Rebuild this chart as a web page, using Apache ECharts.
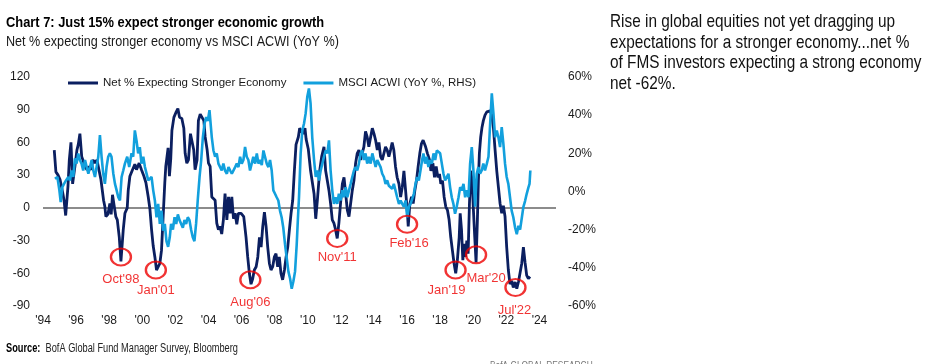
<!DOCTYPE html>
<html>
<head>
<meta charset="utf-8">
<script src="https://cdn.jsdelivr.net/npm/echarts@6/dist/echarts.min.js"></script>
<style>
html,body{margin:0;padding:0;background:#fff;}
#chart{width:937px;height:364px;}
</style>
</head>
<body>
<div id="chart"></div>
<script>
// ---- Data ----
const netYears = [1994.68,1994.78,1994.91,1995.03,1995.19,1995.27,1995.37,1995.51,1995.59,1995.69,1995.79,1995.93,1996.05,1996.13,1996.23,1996.34,1996.41,1996.53,1996.66,1996.78,1996.90,1997.02,1997.14,1997.26,1997.38,1997.50,1997.66,1997.74,1997.80,1997.92,1998.04,1998.12,1998.20,1998.30,1998.40,1998.49,1998.61,1998.71,1998.85,1998.95,1999.09,1999.15,1999.25,1999.41,1999.55,1999.65,1999.81,1999.95,2000.10,2000.22,2000.36,2000.46,2000.56,2000.66,2000.76,2000.86,2000.96,2001.06,2001.16,2001.26,2001.36,2001.42,2001.56,2001.64,2001.72,2001.79,2001.91,2002.05,2002.15,2002.25,2002.39,2002.51,2002.59,2002.69,2002.79,2002.91,2002.99,2003.11,2003.19,2003.31,2003.39,2003.50,2003.60,2003.72,2003.80,2003.92,2004.00,2004.10,2004.20,2004.30,2004.40,2004.50,2004.60,2004.70,2004.80,2004.90,2005.00,2005.11,2005.21,2005.31,2005.41,2005.51,2005.61,2005.71,2005.81,2005.97,2006.13,2006.27,2006.37,2006.47,2006.57,2006.67,2006.77,2006.88,2006.98,2007.08,2007.18,2007.28,2007.38,2007.48,2007.58,2007.68,2007.78,2007.88,2007.98,2008.08,2008.18,2008.28,2008.38,2008.48,2008.59,2008.69,2008.79,2008.89,2008.99,2009.09,2009.19,2009.29,2009.43,2009.51,2009.63,2009.71,2009.83,2009.90,2010.03,2010.17,2010.38,2010.48,2010.58,2010.72,2010.84,2010.98,2011.08,2011.18,2011.28,2011.38,2011.48,2011.58,2011.68,2011.78,2011.88,2011.98,2012.09,2012.19,2012.29,2012.39,2012.49,2012.59,2012.69,2012.79,2012.89,2012.99,2013.09,2013.19,2013.29,2013.39,2013.49,2013.59,2013.69,2013.80,2013.90,2014.00,2014.10,2014.20,2014.30,2014.40,2014.50,2014.60,2014.70,2014.80,2014.90,2015.00,2015.10,2015.20,2015.30,2015.40,2015.51,2015.61,2015.71,2015.81,2015.91,2016.01,2016.07,2016.17,2016.27,2016.37,2016.47,2016.57,2016.67,2016.77,2016.87,2016.97,2017.12,2017.23,2017.36,2017.44,2017.56,2017.66,2017.76,2017.86,2017.96,2018.04,2018.14,2018.24,2018.34,2018.44,2018.54,2018.64,2018.74,2018.84,2018.94,2019.04,2019.15,2019.21,2019.29,2019.37,2019.45,2019.53,2019.61,2019.69,2019.77,2019.85,2019.93,2020.01,2020.09,2020.17,2020.25,2020.31,2020.37,2020.45,2020.53,2020.61,2020.71,2020.82,2020.92,2021.02,2021.12,2021.22,2021.32,2021.42,2021.52,2021.62,2021.72,2021.82,2021.92,2022.02,2022.12,2022.22,2022.32,2022.42,2022.53,2022.63,2022.73,2022.83,2022.93,2023.03,2023.13,2023.23,2023.33,2023.43];
const netValues = [53,33,30,26,14,7,-7,20,44,60,22,38,53,58,68,47,44,38,35,38,35,44,41,44,35,26,7,1,-8,-6,4,-6,12,2,-8,-11,-27,-49,-20,-5,0,16,29,35,40,35,41,35,29,23,10,-1,-20,-35,-45,-57,-58,-51,-39,-8,23,38,55,29,45,71,83,88,91,83,82,73,50,41,44,68,67,53,35,44,80,86,86,80,65,53,41,38,10,10,7,-14,-20,-17,-24,-11,13,-11,10,-5,10,-10,-5,-15,-5,-5,-8,-27,-45,-60,-70,-65,-57,-54,-45,-27,-36,-17,-4,-17,-36,-51,-57,-54,-45,-42,-54,-45,-60,-66,-57,-45,-36,-20,-5,7,34,58,65,73,74,68,73,63,54,34,13,-10,7,34,47,56,34,25,16,4,-11,-14,-20,-28,-14,4,22,28,13,-2,-8,4,16,25,41,50,53,44,50,56,70,65,56,65,73,68,62,53,60,47,44,50,56,53,47,53,60,53,38,28,22,10,19,34,16,-2,-17,4,10,4,16,25,38,50,59,62,56,50,44,34,41,28,38,28,31,22,25,10,1,-2,-11,-27,-39,-51,-60,-48,-27,-5,-20,-48,-33,-45,-30,-42,4,34,25,-2,-27,-50,-11,25,50,65,74,80,85,88,89,89,85,73,53,34,19,4,-5,2,-8,-36,-57,-70,-67,-73,-68,-74,-68,-67,-51,-36,-50,-62,-65,-63];

const acwiYears = [1994.72,1994.87,1994.99,1995.07,1995.17,1995.27,1995.39,1995.53,1995.63,1995.73,1995.83,1995.93,1996.03,1996.13,1996.23,1996.33,1996.43,1996.54,1996.64,1996.74,1996.84,1996.94,1997.04,1997.14,1997.24,1997.34,1997.44,1997.54,1997.64,1997.74,1997.84,1997.94,1998.04,1998.14,1998.25,1998.35,1998.45,1998.55,1998.65,1998.75,1998.85,1998.95,1999.09,1999.21,1999.35,1999.45,1999.55,1999.65,1999.75,1999.85,1999.95,2000.06,2000.16,2000.26,2000.36,2000.46,2000.56,2000.66,2000.76,2000.86,2000.96,2001.06,2001.16,2001.26,2001.36,2001.46,2001.56,2001.66,2001.74,2001.85,2001.95,2002.05,2002.15,2002.25,2002.35,2002.45,2002.55,2002.65,2002.75,2002.85,2002.95,2003.05,2003.15,2003.25,2003.35,2003.46,2003.56,2003.66,2003.76,2003.86,2003.96,2004.06,2004.12,2004.20,2004.30,2004.40,2004.50,2004.60,2004.70,2004.80,2004.90,2005.00,2005.11,2005.21,2005.31,2005.41,2005.51,2005.61,2005.71,2005.81,2005.91,2006.01,2006.11,2006.21,2006.31,2006.41,2006.51,2006.61,2006.71,2006.82,2006.92,2007.02,2007.12,2007.22,2007.32,2007.42,2007.52,2007.62,2007.72,2007.82,2007.92,2008.02,2008.12,2008.22,2008.32,2008.42,2008.52,2008.63,2008.73,2008.83,2008.93,2009.03,2009.13,2009.23,2009.33,2009.40,2009.47,2009.57,2009.67,2009.77,2009.87,2009.97,2010.07,2010.17,2010.27,2010.38,2010.48,2010.58,2010.68,2010.78,2010.88,2010.98,2011.08,2011.18,2011.28,2011.38,2011.48,2011.58,2011.68,2011.78,2011.88,2011.98,2012.09,2012.19,2012.29,2012.39,2012.49,2012.59,2012.69,2012.79,2012.89,2012.99,2013.09,2013.19,2013.29,2013.39,2013.49,2013.59,2013.69,2013.80,2013.90,2014.00,2014.10,2014.20,2014.30,2014.40,2014.50,2014.60,2014.70,2014.80,2014.90,2015.00,2015.10,2015.20,2015.30,2015.40,2015.51,2015.61,2015.71,2015.81,2015.91,2016.01,2016.11,2016.21,2016.31,2016.41,2016.51,2016.61,2016.71,2016.81,2016.91,2016.99,2017.09,2017.19,2017.29,2017.39,2017.50,2017.60,2017.70,2017.80,2017.90,2018.00,2018.10,2018.20,2018.30,2018.40,2018.50,2018.60,2018.70,2018.80,2018.90,2019.00,2019.11,2019.21,2019.31,2019.41,2019.51,2019.61,2019.71,2019.81,2019.91,2020.01,2020.11,2020.21,2020.31,2020.41,2020.51,2020.61,2020.71,2020.82,2020.92,2021.02,2021.12,2021.22,2021.32,2021.42,2021.52,2021.62,2021.72,2021.82,2021.92,2022.02,2022.12,2022.22,2022.32,2022.42,2022.53,2022.63,2022.73,2022.83,2022.93,2023.03,2023.13,2023.23,2023.33,2023.40,2023.45];
const acwiValues = [6.7,7.6,0.6,-5.6,2.3,4,5.8,7.6,5.8,11,7.6,17.3,14.6,19.9,16.5,14.6,11,16.5,12.8,9.3,12.8,16.5,11,7.6,12.8,18.2,29.6,18.2,9.3,4,12.8,18.2,20,18.2,9.3,4,0.6,-3,-4.7,7.6,11,14.6,18.2,12.8,20,18.2,32,26.8,20,23.3,14.6,18.2,12.8,12,5.8,5.8,7.6,0.6,-4.7,-13.5,-6.5,-17,-10,-20.5,-17,-26,-29,-24,-17,-20,-13.5,-17,-12,-15,-14,-19,-15,-17,-13.5,-15,-20,-24,-26,-17,-4.7,7.6,16.5,28.4,35.5,39,37,42.6,41.7,28.4,21.5,18.2,20,14.6,13.8,11,14.6,11,9.3,12.8,11,9.3,9.3,12.8,14.6,12.8,18.2,14.6,16.5,23.3,18.2,16.5,11,14.6,18.2,14.6,20,14.6,16.5,13.8,21.5,22.4,14.6,12.8,16.5,11,0.6,-1.2,-3,-4.7,-10,-13.5,-19,-28,-35,-42,-45.6,-51,-47,-42,-28,-15,-3,19.9,32,35.5,40.8,49.6,54,46,28.4,16.5,7.6,11,5.8,11,14.6,18.2,21.5,20,26.8,11,0.6,-6.5,-3,-6.5,-1.2,-4.7,0.6,-3,2.3,-3,0.6,4,7.6,11,12.8,11,14.6,20,21.5,16.5,20,14.6,18.2,14.6,20,16.5,12.8,16.5,14.6,12.8,9.3,7.6,4,5.8,3,4,1.4,4,0.6,-3,-6.5,-4.7,-6.5,-8,-4.7,-13.5,-8,-6.5,-6.5,-1.2,4,7.6,5.8,11,16.5,19.9,14.6,18.2,12.8,16.5,14.6,20,16.5,21.5,22.4,20,14.6,9.3,5.8,7.6,9.3,2.3,-3,-6.5,-11.7,-8,-3,2.3,0.6,4,-3,0.6,-3,14.6,23.3,11,-8,9.3,12.8,9.3,11,14.6,11,14.6,18.2,35.5,51.4,40.8,28.4,32,28.4,23.3,33.7,25,14.6,7.6,4,-3,-10,-13.5,-19,-22.4,-18,-20,-14,-8,-5,-1.2,2,4,11];

const annLabels = ["Oct'98","Jan'01","Aug'06","Nov'11","Feb'16","Jan'19","Mar'20","Jul'22"];
const annYears  = [1998.71, 2000.82, 2006.53, 2011.78, 2016.0, 2018.93, 2020.17, 2022.55];
const annValues = [-45, -57, -66, -28, -15, -57, -43, -73];

const xTickStart = 1994, xTickEnd = 2025, xTickStep = 2;
const leftTicks = {min: -90, max: 120, step: 30};
const rightTicks = {min: -60, max: 60, step: 20};

// ---- Layout / styles ----
const SANS = "'Liberation Sans',Arial,sans-serif";
const DARK = '#0b1f60';
const LIGHT = '#12a0dd';
const RED = '#ee0000';
const annOffsets = [[0,22],[0,20],[0,23],[0,19],[2,19],[-9,20],[10,24],[-1,23]];

const chart = echarts.init(document.getElementById('chart'), null, {renderer:'canvas'});

const zip = (xs, ys) => xs.map((x, i) => [x, ys[i]]);

// condensed-looking text helper (real text, horizontally scaled)
const ctext = (x, y, text, font, fill, sx, extra) => ({
  type: 'text', x: x, y: y, scaleX: sx, scaleY: 1, silent: true,
  style: Object.assign({text: text, font: font, fill: fill, verticalAlign: 'top', align: 'left'}, extra || {})
});

const option = {
  animation: false,
  backgroundColor: '#fff',
  grid: {left: 43, right: 381, top: 77, bottom: 58, containLabel: false},
  legend: {
    left: 68, top: 77, padding: 0, itemWidth: 30, itemHeight: 3, itemGap: 17, icon: 'rect',
    textStyle: {fontFamily: SANS, fontSize: 11.5, color: '#1a1a1a'},
    data: ['Net % Expecting Stronger Economy', 'MSCI ACWI (YoY %, RHS)']
  },
  xAxis: {
    type: 'value', min: xTickStart, max: xTickEnd, interval: xTickStep,
    axisLine: {show: false, onZero: false}, axisTick: {show: false}, splitLine: {show: false},
    axisLabel: {
      margin: 9, fontFamily: SANS, fontSize: 12, color: '#1a1a1a', showMaxLabel: false,
      formatter: v => (v % 2 === 0 ? "'" + String(v).slice(2) : '')
    }
  },
  yAxis: [
    {
      type: 'value', min: leftTicks.min, max: leftTicks.max, interval: leftTicks.step,
      axisLine: {show: false}, axisTick: {show: false}, splitLine: {show: false},
      axisLabel: {margin: 13, fontFamily: SANS, fontSize: 12, color: '#1a1a1a'}
    },
    {
      type: 'value', min: rightTicks.min, max: rightTicks.max, interval: rightTicks.step, position: 'right',
      axisLine: {show: false}, axisTick: {show: false}, splitLine: {show: false},
      axisLabel: {margin: 12, fontFamily: SANS, fontSize: 12, color: '#1a1a1a', formatter: v => v + '%'}
    }
  ],
  series: [
    {
      name: 'Net % Expecting Stronger Economy', type: 'line', yAxisIndex: 0,
      data: zip(netYears, netValues), showSymbol: false, symbol: 'none',
      lineStyle: {color: DARK, width: 2.8}, itemStyle: {color: DARK}, z: 3,
      markLine: {
        silent: true, symbol: 'none', label: {show: false},
        lineStyle: {color: '#666', width: 1.5, type: 'solid'},
        data: [{yAxis: 0}], z: 1
      }
    },
    {
      name: 'MSCI ACWI (YoY %, RHS)', type: 'line', yAxisIndex: 1,
      data: zip(acwiYears, acwiValues), showSymbol: false, symbol: 'none',
      lineStyle: {color: LIGHT, width: 2.6}, itemStyle: {color: LIGHT}, z: 4
    },
    {
      name: 'annotations', type: 'scatter', yAxisIndex: 0, silent: true, z: 6,
      symbol: 'circle', symbolSize: [20, 17],
      itemStyle: {color: 'rgba(0,0,0,0)', borderColor: RED, borderWidth: 2.2},
      label: {show: true, position: 'inside', formatter: p => p.name, color: RED, fontFamily: SANS, fontSize: 13},
      data: annLabels.map((n, i) => ({name: n, value: [annYears[i], annValues[i]], label: {offset: annOffsets[i]}}))
    }
  ],
  graphic: [
    ctext(6, 15, 'Chart 7: Just 15% expect stronger economic growth', "bold 15.5px " + SANS, '#000', 0.83),
    ctext(6, 35, 'Net % expecting stronger economy vs MSCI ACWI (YoY %)', "14px " + SANS, '#1a1a1a', 0.90),
    ctext(610, 12, 'Rise in global equities not yet dragging up\nexpectations for a stronger economy...net %\nof FMS investors expecting a strong economy\nnet -62%.', "18.5px " + SANS, '#111', 0.83, {lineHeight: 20.5}),
    ctext(6, 343, '{b|Source:}  BofA Global Fund Manager Survey, Bloomberg', "12px " + SANS, '#222', 0.77,
      {rich: {b: {fontWeight: 'bold', fontFamily: SANS, fontSize: 12, fill: '#000'}}}),
    ctext(490, 360, 'BofA GLOBAL RESEARCH', "11px " + SANS, '#777', 0.76)
  ]
};
chart.setOption(option);
</script>
</body>
</html>
